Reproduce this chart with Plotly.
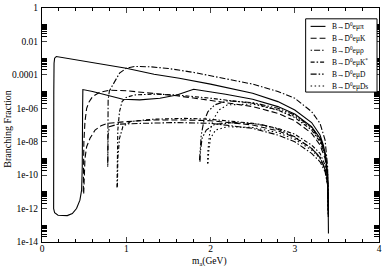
import plotly.graph_objects as go

# ---------------- data ----------------
# B -> D0bar e mu pi  (solid, drawn as one connected path)
pi_x = [3.40, 3.395, 3.39, 3.37, 3.34, 3.30, 3.20, 3.00, 2.80, 2.50, 2.00, 1.63, 1.33, 1.00, 0.63, 0.40, 0.25, 0.17, 0.15, 0.143, 0.14, 0.138,
        0.15, 0.19, 0.30, 0.36, 0.41, 0.45, 0.47, 0.478, 0.482, 0.485,
        0.60, 0.80, 0.96, 1.16, 1.40, 1.60, 1.80, 2.18, 2.50, 2.80, 3.00, 3.20, 3.30, 3.35, 3.38, 3.395, 3.40]
pi_y = [3.2e-13, 1.6e-11, 1.0e-10, 1.26e-9, 6.3e-9, 2.5e-8, 1.4e-7, 7.9e-7, 2.5e-6, 7.9e-6, 2.8e-5, 6.3e-5, 1.1e-4, 2.5e-4, 5.0e-4, 7.9e-4, 1.07e-3, 1.26e-3, 1.0e-3, 5.0e-4, 1.0e-5, 1.0e-12,
        5.6e-13, 4.0e-13, 3.8e-13, 5.0e-13, 1.0e-12, 3.2e-12, 1.26e-11, 3.2e-10, 1.0e-6, 1.32e-5,
        1.0e-5, 5.6e-6, 3.5e-6, 3.2e-6, 4.0e-6, 6.3e-6, 1.38e-5, 6.9e-6, 3.5e-6, 1.26e-6, 4.5e-7, 7.9e-8, 1.6e-8, 3.2e-9, 3.2e-10, 1.0e-11, 3.2e-14]

# B -> D0bar e mu K (long dash), two branches
k1_x = [0.49, 0.492, 0.497, 0.51, 0.53, 0.56, 0.60, 0.68, 0.80, 1.00, 1.30, 1.60, 1.90, 2.20, 2.50, 2.80, 3.00, 3.20, 3.30, 3.36, 3.39, 3.40]
k1_y = [1.0e-11, 1.0e-9, 1.0e-8, 1.6e-7, 1.0e-6, 2.5e-6, 5.0e-6, 8.9e-6, 1.2e-5, 1.12e-5, 8.3e-6, 5.6e-6, 3.5e-6, 2.2e-6, 1.26e-6, 5.0e-7, 1.8e-7, 3.2e-8, 6.3e-9, 1.0e-9, 6.3e-11, 1.0e-12]
k2_x = [0.495, 0.50, 0.51, 0.53, 0.57, 0.63, 0.70, 0.78, 1.00, 1.33, 1.70, 2.00, 2.50, 2.80, 3.00, 3.20, 3.30, 3.36, 3.39, 3.40]
k2_y = [7.9e-12, 1.0e-10, 1.0e-9, 5.0e-9, 1.6e-8, 5.0e-8, 8.9e-8, 1.26e-7, 1.6e-7, 2.0e-7, 2.0e-7, 1.8e-7, 1.0e-7, 4.5e-8, 1.8e-8, 4.0e-9, 1.12e-9, 2.5e-10, 3.2e-11, 3.2e-13]

# B -> D0bar e mu rho (dot - long dash), two branches
r1_x = [0.78, 0.782, 0.785, 0.80, 0.86, 0.92, 1.00, 1.10, 1.30, 1.50, 1.80, 2.00, 2.50, 2.80, 3.00, 3.20, 3.30, 3.36, 3.39, 3.40]
r1_y = [3.2e-10, 1.0e-7, 3.2e-6, 1.1e-5, 4.0e-5, 1.26e-4, 2.5e-4, 3.2e-4, 3.0e-4, 2.4e-4, 1.4e-4, 8.9e-5, 2.8e-5, 1.0e-5, 4.0e-6, 6.3e-7, 1.26e-7, 1.26e-8, 3.2e-10, 1.0e-12]
r2_x = [0.781, 0.784, 0.80, 0.90, 1.20, 1.60, 2.00, 2.50, 2.80, 3.00, 3.20, 3.30, 3.36, 3.39, 3.40]
r2_y = [4.0e-10, 2.5e-8, 7.9e-8, 1.12e-7, 1.26e-7, 1.4e-7, 1.26e-7, 6.3e-8, 2.5e-8, 1.0e-8, 2.0e-9, 6.3e-10, 1.6e-10, 2.5e-11, 3.2e-13]

# B -> D0bar e mu K* (dash-dot), two branches
ks1_x = [0.89, 0.893, 0.90, 0.92, 0.95, 1.00, 1.10, 1.33, 1.60, 1.80, 2.00, 2.50, 2.80, 3.00, 3.20, 3.30, 3.36, 3.39, 3.40]
ks1_y = [1.8e-11, 3.2e-9, 5.0e-8, 6.3e-7, 2.5e-6, 4.5e-6, 6.3e-6, 7.1e-6, 6.3e-6, 5.0e-6, 4.0e-6, 2.0e-6, 7.9e-7, 2.8e-7, 5.0e-8, 1.0e-8, 1.6e-9, 1.0e-10, 3.2e-13]
ks2_x = [0.895, 0.90, 0.92, 0.96, 1.05, 1.30, 1.70, 2.00, 2.50, 2.80, 3.00, 3.20, 3.30, 3.36, 3.39, 3.40]
ks2_y = [2.0e-11, 1.0e-9, 1.6e-8, 7.9e-8, 1.6e-7, 2.2e-7, 2.5e-7, 2.2e-7, 1.26e-7, 6.3e-8, 2.8e-8, 6.3e-9, 2.0e-9, 4.0e-10, 5.0e-11, 3.2e-13]

# B -> D0bar e mu D (dash-dot-dot), two branches
d1_x = [1.87, 1.875, 1.89, 1.92, 1.97, 2.05, 2.20, 2.50, 2.80, 3.00, 3.20, 3.30, 3.36, 3.39, 3.40]
d1_y = [7.9e-10, 3.2e-9, 2.5e-8, 1.6e-7, 6.3e-7, 1.6e-6, 2.8e-6, 2.2e-6, 1.0e-6, 4.0e-7, 7.1e-8, 1.4e-8, 2.0e-9, 1.0e-10, 3.2e-13]
d2_x = [1.875, 1.88, 1.90, 1.95, 2.05, 2.30, 2.60, 2.80, 3.00, 3.20, 3.30, 3.36, 3.39, 3.40]
d2_y = [6.3e-10, 2.5e-9, 1.6e-8, 5.0e-8, 1.1e-7, 1.4e-7, 1.1e-7, 5.6e-8, 2.0e-8, 4.0e-9, 1.2e-9, 2.2e-10, 3.2e-11, 3.2e-13]

# B -> D0bar e mu Ds (dotted), two branches
ds1_x = [1.965, 1.97, 1.99, 2.03, 2.10, 2.20, 2.50, 2.80, 3.00, 3.20, 3.30, 3.36, 3.39, 3.40]
ds1_y = [5.0e-10, 3.2e-9, 3.2e-8, 2.0e-7, 7.9e-7, 1.6e-6, 1.8e-6, 7.9e-7, 3.2e-7, 6.3e-8, 1.2e-8, 1.8e-9, 1.0e-10, 3.2e-13]
ds2_x = [1.97, 1.98, 2.00, 2.06, 2.20, 2.50, 2.80, 3.00, 3.20, 3.30, 3.36, 3.39, 3.40]
ds2_y = [5.0e-10, 3.2e-9, 1.6e-8, 5.0e-8, 7.9e-8, 7.1e-8, 3.5e-8, 1.4e-8, 3.2e-9, 1.0e-9, 2.0e-10, 3.2e-11, 3.2e-13]

legend_labels = ["B→D\u0304<sup>0</sup>eμπ", "B→D\u0304<sup>0</sup>eμK", "B→D\u0304<sup>0</sup>eμρ",
                 "B→D\u0304<sup>0</sup>eμK<sup>*</sup>", "B→D\u0304<sup>0</sup>eμD", "B→D\u0304<sup>0</sup>eμDs"]

y_tickvals = [1, 1e-2, 1e-4, 1e-6, 1e-8, 1e-10, 1e-12, 1e-14]
y_ticktext = ["1", "0.01", "0.0001", "1e-06", "1e-08", "1e-10", "1e-12", "1e-14"]
x_title = "m<sub>a</sub>(GeV)"
y_title = "Branching Fraction"

# ---------------- styles ----------------
dashes = ["solid", "6px,3px", "1.5px,2px,6px,2px", "4px,2px,1.5px,2px", "6px,2px,1.5px,2px,1.5px,2px", "1.5px,2.5px"]
LW = 1.1
FONT = "Liberation Serif"

series = [
    (pi_x, pi_y, 0),
    (k1_x, k1_y, 1), (k2_x, k2_y, 1),
    (r1_x, r1_y, 2), (r2_x, r2_y, 2),
    (ks1_x, ks1_y, 3), (ks2_x, ks2_y, 3),
    (d1_x, d1_y, 4), (d2_x, d2_y, 4),
    (ds1_x, ds1_y, 5), (ds2_x, ds2_y, 5),
]

fig = go.Figure()
for xs, ys, si in series:
    fig.add_trace(go.Scatter(x=xs, y=ys, mode="lines", showlegend=False,
                             line=dict(color="black", width=LW, dash=dashes[si])))

# minor ticks for the log axis: 2..10 x each labelled decade
minor_vals = []
for e in range(-14, 0, 2):
    for k in range(2, 11):
        minor_vals.append(k * 10.0 ** e)

W, H = 385, 267
ML, MR, MT, MB = 42, 3, 4, 25
fig.update_layout(
    width=W, height=H,
    margin=dict(l=ML, r=MR, t=MT, b=MB),
    plot_bgcolor="white", paper_bgcolor="white",
    font=dict(family=FONT, size=10, color="black"),
    xaxis=dict(range=[0, 4], dtick=1, tick0=0, ticks="inside", ticklen=5, tickwidth=1,
               showline=True, linecolor="black", linewidth=1, mirror="ticks",
               showgrid=False, zeroline=False, ticklabeloverflow="allow",
               ticklabelstandoff=-2,
               minor=dict(dtick=0.2, tick0=0, ticks="inside", ticklen=3, tickcolor="black", showgrid=False),
               tickfont=dict(family=FONT, size=9.5)),
    yaxis=dict(type="log", range=[-14, 0], tickmode="array", tickvals=y_tickvals, ticktext=y_ticktext,
               ticks="inside", ticklen=5, tickwidth=1,
               showline=True, linecolor="black", linewidth=1, mirror="ticks",
               showgrid=False, zeroline=False, ticklabeloverflow="allow",
               ticklabelstandoff=1,
               minor=dict(tickmode="array", tickvals=minor_vals, ticks="inside", ticklen=5,
                          tickcolor="black", showgrid=False),
               tickfont=dict(family=FONT, size=9.5)),
)

pw, ph = W - ML - MR, H - MT - MB
def px(xp):
    return (xp - ML) / pw
def py(yp):
    return (H - MB - yp) / ph

# axis titles placed as annotations
fig.add_annotation(xref="paper", yref="paper", x=px(211), y=py(261.5), text=x_title,
                   showarrow=False, xanchor="center", yanchor="middle",
                   font=dict(family=FONT, size=9.5, color="black"))
fig.add_annotation(xref="paper", yref="paper", x=px(7.5), y=py(127), text=y_title,
                   showarrow=False, xanchor="center", yanchor="middle", textangle=-90,
                   font=dict(family=FONT, size=10, color="black"))

# ---------------- hand-built legend ----------------
fig.add_shape(type="rect", xref="paper", yref="paper",
              x0=px(308), x1=px(380), y0=py(89.5), y1=py(15),
              line=dict(color="black", width=1), fillcolor="white", layer="above")
row_y = [22.7, 34.7, 46.9, 59.1, 71.3, 83.3]
for i, lab in enumerate(legend_labels):
    fig.add_shape(type="line", xref="paper", yref="paper",
                  x0=px(313), x1=px(328), y0=py(row_y[i]), y1=py(row_y[i]),
                  line=dict(color="black", width=LW, dash=dashes[i]), layer="above")
    fig.add_annotation(xref="paper", yref="paper", x=px(333), y=py(row_y[i]),
                       text=lab, showarrow=False, xanchor="left", yanchor="middle",
                       font=dict(family=FONT, size=7.5, color="black"))

# remove the browser's default page margin so the figure sits at the window origin
fig.write_html("out.html", config={"displayModeBar": False},
               post_script="document.body.style.margin='0px';")
